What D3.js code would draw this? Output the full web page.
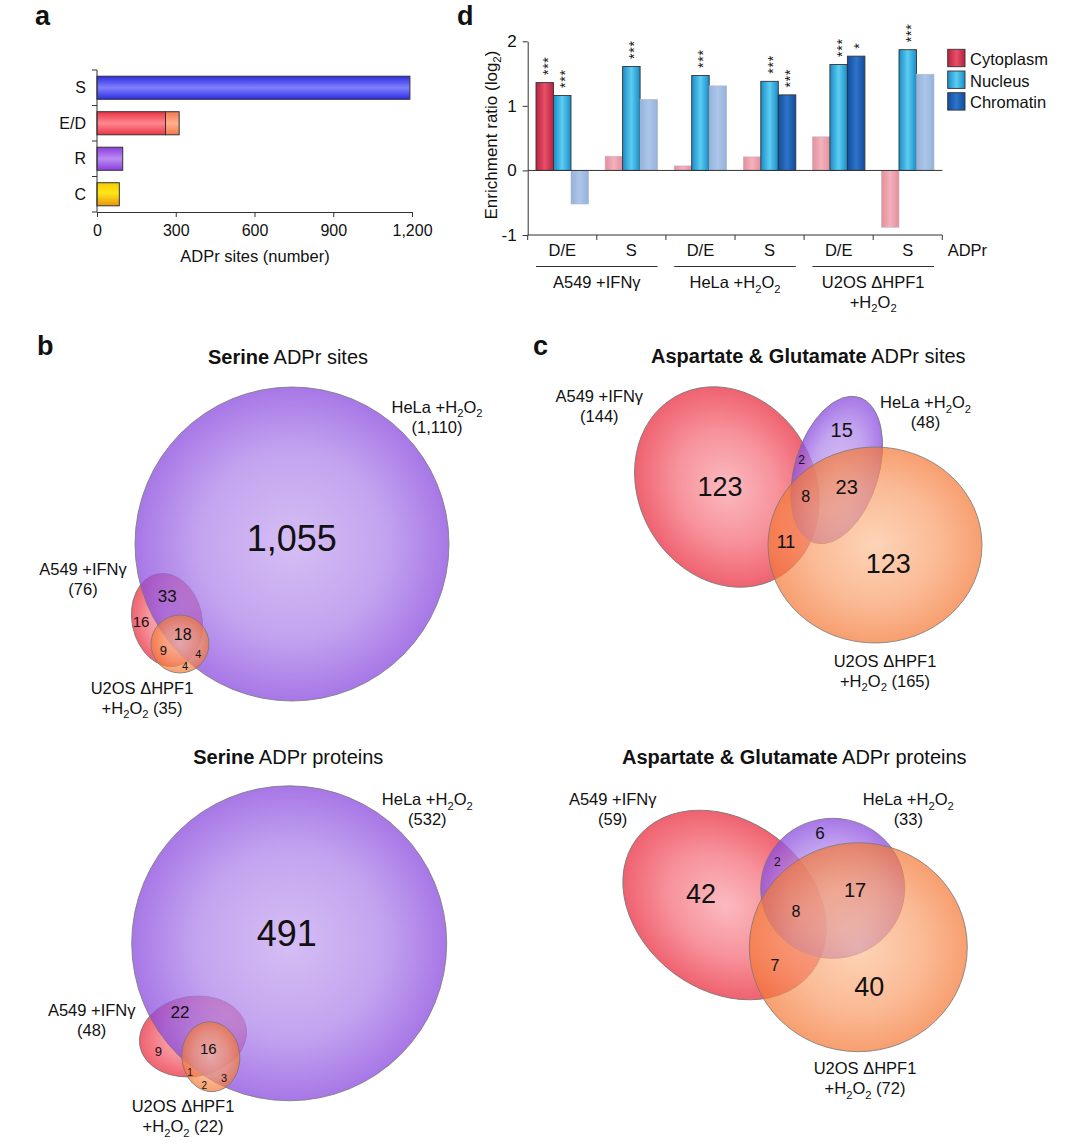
<!DOCTYPE html>
<html><head>
<meta charset="utf-8">
<script src="https://d3js.org/d3.v7.min.js"></script>
<style>
  body { margin: 0; background: #fff; }
  svg { display: block; }
  text { font-family: "Liberation Sans", Arial, sans-serif; fill: #111; }
</style>
</head>
<body>
<svg id="fig" width="1080" height="1146"></svg>
<script>
// ---------- data ----------
// panel a: ADPr sites per residue
const aCategories = ["S", "E/D", "R", "C"];
const aMainCounts = [1192, 261, 98, 85];
const aExtraCounts = [0, 52, 0, 0];
const aTicks = [0, 300, 600, 900, 1200];

// panel d: enrichment ratios (log2)
const dCompartments = ["Cytoplasm", "Nucleus", "Chromatin"];
const dResidues = ["D/E", "S", "D/E", "S", "D/E", "S"];
const dCellLines = ["A549 +IFNγ", "HeLa +H₂O₂", "U2OS ΔHPF1 +H₂O₂"];
const dCytoplasm = [1.36, 0.22, 0.07, 0.21, 0.52, -0.88];
const dNucleus = [1.16, 1.61, 1.47, 1.38, 1.64, 1.87];
const dChromatin = [-0.52, 1.10, 1.31, 1.17, 1.77, 1.49];
const dCytoplasmStars = ["***", "", "", "", "", ""];
const dNucleusStars = ["***", "***", "***", "***", "***", "***"];
const dChromatinStars = ["", "", "", "***", "*", ""];
const dTicks = [-1, 0, 1, 2];

// panels b, c: venn counts, regions in order A, H, U, AH, AU, HU, AHU
const vennSetNames = ["A549 +IFNγ", "HeLa +H₂O₂", "U2OS ΔHPF1 +H₂O₂"];
const regionKeys = ["A", "H", "U", "AH", "AU", "HU", "AHU"];
const serineSiteTotals = [76, 1110, 35];
const serineSiteRegions = [16, 1055, 4, 33, 9, 4, 18];
const serineProteinTotals = [48, 532, 22];
const serineProteinRegions = [9, 491, 2, 22, 1, 3, 16];
const acidicSiteTotals = [144, 48, 165];
const acidicSiteRegions = [123, 15, 123, 2, 11, 23, 8];
const acidicProteinTotals = [59, 33, 72];
const acidicProteinRegions = [42, 6, 40, 2, 7, 17, 8];

// ---------- helpers ----------
const svg = d3.select("#fig");
const defs = svg.append("defs");

function linGrad(id, stops, vertical) {
  const g = defs.append("linearGradient").attr("id", id)
    .attr("x1", 0).attr("y1", 0).attr("x2", vertical ? 0 : 1).attr("y2", vertical ? 1 : 0);
  stops.forEach(s => g.append("stop").attr("offset", s[0]).attr("stop-color", s[1]));
}
function radGrad(id, stops) {
  const g = defs.append("radialGradient").attr("id", id).attr("cx", "50%").attr("cy", "50%").attr("r", "50%");
  stops.forEach(s => g.append("stop").attr("offset", s[0]).attr("stop-color", s[1]));
}
// text with subscript 2
function rich(t, str, fs) {
  const parts = str.split(/(₂)/).filter(p => p !== "");
  let down = false;
  parts.forEach(p => {
    if (p === "₂") {
      t.append("tspan").attr("dy", down ? 0 : fs * 0.28).attr("font-size", fs * 0.68).text("2");
      down = true;
    } else {
      const s = t.append("tspan").text(p);
      if (down) { s.attr("dy", -fs * 0.28); down = false; }
    }
  });
}
function panelLabel(x, y, s) {
  svg.append("text").attr("x", x).attr("y", y).attr("font-size", 27).attr("font-weight", "bold").text(s);
}

// ---------- panel a ----------
linGrad("gS", [[0, "#2c2ce2"], [0.5, "#8080ff"], [1, "#2c2ce2"]], true);
linGrad("gED", [[0, "#ea3444"], [0.5, "#ff8890"], [1, "#ea3444"]], true);
linGrad("gED2", [[0, "#f27a4e"], [0.5, "#ffb08e"], [1, "#f27a4e"]], true);
linGrad("gR", [[0, "#8a3edc"], [0.5, "#bb8cf4"], [1, "#8a3edc"]], true);
linGrad("gC", [[0, "#f4cc00"], [0.45, "#ffe61a"], [1, "#e8960e"]], true);
const aFill = ["url(#gS)", "url(#gED)", "url(#gR)", "url(#gC)"];

panelLabel(35, 25, "a");
const aG = svg.append("g");
const ax = d3.scaleLinear().domain([0, 1200]).range([97, 412]);
const ay = d3.scaleBand().domain(aCategories).range([70, 212]).paddingInner(0.35).paddingOuter(0.175);

aG.selectAll("rect.main").data(aCategories).join("rect").attr("class", "main")
  .attr("x", ax(0)).attr("y", d => ay(d))
  .attr("width", (d, i) => ax(aMainCounts[i]) - ax(0)).attr("height", ay.bandwidth())
  .attr("fill", (d, i) => aFill[i]).attr("stroke", "#333").attr("stroke-width", 1);
aG.selectAll("rect.extra").data(aCategories.filter((d, i) => aExtraCounts[i] > 0)).join("rect").attr("class", "extra")
  .attr("x", d => ax(aMainCounts[aCategories.indexOf(d)])).attr("y", d => ay(d))
  .attr("width", d => { const i = aCategories.indexOf(d); return ax(aMainCounts[i] + aExtraCounts[i]) - ax(aMainCounts[i]); })
  .attr("height", ay.bandwidth())
  .attr("fill", "url(#gED2)").attr("stroke", "#333").attr("stroke-width", 1);

const aAxis = aG.append("g").attr("transform", "translate(0,212)")
  .call(d3.axisBottom(ax).tickValues(aTicks).tickFormat(d3.format(",")).tickSize(5).tickSizeOuter(0).tickPadding(8));
aAxis.selectAll("text").attr("font-size", 16).attr("font-family", "Liberation Sans, Arial, sans-serif").attr("fill", "#111");
aAxis.select(".domain").attr("stroke", "#333");
aAxis.selectAll(".tick line").attr("stroke", "#333");

aG.append("line").attr("x1", 97).attr("x2", 97).attr("y1", 70).attr("y2", 212).attr("stroke", "#333");
aG.selectAll("line.bt").data(d3.range(aCategories.length + 1)).join("line").attr("class", "bt")
  .attr("x1", 92).attr("x2", 97)
  .attr("y1", i => ay.range()[0] + i * ay.step()).attr("y2", i => ay.range()[0] + i * ay.step())
  .attr("stroke", "#333");
aG.selectAll("text.cat").data(aCategories).join("text").attr("class", "cat")
  .attr("x", 86).attr("y", d => ay(d) + ay.bandwidth() / 2).attr("dy", "0.35em")
  .attr("text-anchor", "end").attr("font-size", 16).text(d => d);
aG.append("text").attr("x", 255).attr("y", 262).attr("text-anchor", "middle").attr("font-size", 16.5)
  .text("ADPr sites (number)");

// ---------- panel d ----------
linGrad("gCyto", [[0, "#b82240"], [0.5, "#e85068"], [1, "#b82240"]], false);
linGrad("gNuc", [[0, "#1b8cc6"], [0.5, "#5ccdf2"], [1, "#1b8cc6"]], false);
linGrad("gChr", [[0, "#124c9e"], [0.5, "#2e74c8"], [1, "#124c9e"]], false);
linGrad("gCytoF", [[0, "#e58e9c"], [0.5, "#f2b2bc"], [1, "#e58e9c"]], false);
linGrad("gNucF", [[0, "#8ccbe6"], [0.5, "#b6e2f4"], [1, "#8ccbe6"]], false);
linGrad("gChrF", [[0, "#93b2dc"], [0.5, "#adc6e8"], [1, "#93b2dc"]], false);
const dFill = { Cytoplasm: "url(#gCyto)", Nucleus: "url(#gNuc)", Chromatin: "url(#gChr)" };
const dFillF = { Cytoplasm: "url(#gCytoF)", Nucleus: "url(#gNucF)", Chromatin: "url(#gChrF)" };
const dValues = { Cytoplasm: dCytoplasm, Nucleus: dNucleus, Chromatin: dChromatin };
const dStars = { Cytoplasm: dCytoplasmStars, Nucleus: dNucleusStars, Chromatin: dChromatinStars };
const dFs = 16.5;

panelLabel(457, 25, "d");
const dG = svg.append("g");
const dx = d3.scaleBand().domain(d3.range(dResidues.length)).range([527.7, 942.3]);
const dIn = d3.scaleBand().domain(dCompartments).range([8.3, 60.8]);
const dy = d3.scaleLinear().domain([-1, 2]).range([235, 41.3]);

const dBars = [];
dResidues.forEach((r, i) => dCompartments.forEach(c => dBars.push({ i, c, v: dValues[c][i], s: dStars[c][i] })));

dG.selectAll("rect.bar").data(dBars).join("rect").attr("class", "bar")
  .attr("x", d => dx(d.i) + dIn(d.c)).attr("width", dIn.bandwidth())
  .attr("y", d => dy(Math.max(d.v, 0))).attr("height", d => Math.abs(dy(d.v) - dy(0)))
  .attr("fill", d => d.s ? dFill[d.c] : dFillF[d.c])
  .attr("stroke", d => d.s ? "#333" : "#b8b8c0").attr("stroke-width", d => d.s ? 0.9 : 0.6);

// significance stars, stacked vertically in one rotated text
const starFs = 14;
dG.append("g").attr("opacity", 0.99)
  .selectAll("text.star").data(dBars.filter(d => d.s)).join("text").attr("class", "star")
  .attr("transform", d => `translate(${dx(d.i) + dIn(d.c) + dIn.bandwidth() / 2},${dy(d.v) - 7.5}) rotate(-90)`)
  .attr("y", starFs * 0.57).attr("font-size", starFs).attr("letter-spacing", 0.8).attr("fill", "#222")
  .text(d => d.s);

dG.append("line").attr("x1", dx.range()[0]).attr("x2", dx.range()[1]).attr("y1", dy(0)).attr("y2", dy(0)).attr("stroke", "#333");
const dAxis = dG.append("g").attr("transform", `translate(${dx.range()[0]},0)`)
  .call(d3.axisLeft(dy).tickValues(dTicks).tickFormat(d => String(d)).tickSize(5).tickSizeOuter(0).tickPadding(6));
dAxis.selectAll("text").attr("font-size", 17).attr("font-family", "Liberation Sans, Arial, sans-serif").attr("fill", "#111");
dAxis.select(".domain").attr("stroke", "#333");
dAxis.selectAll(".tick line").attr("stroke", "#333");
dG.append("line").attr("x1", dx.range()[0]).attr("x2", dx.range()[1]).attr("y1", dy(-1)).attr("y2", dy(-1)).attr("stroke", "#333");
dG.selectAll("line.gt").data(d3.range(dResidues.length + 1)).join("line").attr("class", "gt")
  .attr("x1", i => dx.range()[0] + i * dx.step()).attr("x2", i => dx.range()[0] + i * dx.step())
  .attr("y1", dy(-1)).attr("y2", dy(-1) + 5).attr("stroke", "#333");

dG.selectAll("text.res").data(dResidues).join("text").attr("class", "res")
  .attr("x", (d, i) => dx(i) + dx.bandwidth() / 2).attr("y", 255.5).attr("text-anchor", "middle")
  .attr("font-size", dFs).text(d => d);
dG.append("text").attr("x", 947.7).attr("y", 255.5).attr("font-size", dFs).text("ADPr");

dCellLines.forEach((name, g) => {
  const x0 = dx(2 * g) + 8.3, x1 = dx(2 * g + 1) + dx.bandwidth() - 8.3;
  dG.append("line").attr("x1", x0).attr("x2", x1).attr("y1", 266.5).attr("y2", 266.5).attr("stroke", "#333");
  const lines = name.length > 12 ? [name.slice(0, name.lastIndexOf(" +")), name.slice(name.lastIndexOf(" +") + 1)] : [name];
  lines.forEach((l, k) => {
    const t = dG.append("text").attr("x", (x0 + x1) / 2).attr("y", 288 + k * 19.5).attr("text-anchor", "middle").attr("font-size", dFs);
    rich(t, l, dFs);
  });
});

const yl = dG.append("text").attr("transform", "translate(496.5,135) rotate(-90)").attr("text-anchor", "middle").attr("font-size", 17);
rich(yl, "Enrichment ratio (log₂)", 17);

const leg = dG.selectAll("g.leg").data(dCompartments).join("g").attr("class", "leg")
  .attr("transform", (d, i) => `translate(947.7,${49.3 + i * 21.7})`);
leg.append("rect").attr("width", 17.3).attr("height", 17.4).attr("fill", d => dFill[d]).attr("stroke", "#333").attr("stroke-width", 0.9);
leg.append("text").attr("x", 22.3).attr("y", 15.5).attr("font-size", dFs).text(d => d);

// ---------- venn diagrams ----------
radGrad("vA", [[0, "#fbbac0"], [0.55, "#f7929b"], [1, "#ef6270"]]);
radGrad("vH", [[0, "#c8a8f0"], [0.6, "#ae84ea"], [1, "#8a4ade"]]);
radGrad("vU", [[0, "#fcc29a"], [0.6, "#f99d68"], [1, "#f47634"]]);
const vFill = ["url(#vA)", "url(#vH)", "url(#vU)"];
const vOpacity = [1, 0.75, 0.7];
const fmt = d3.format(",");
const vLabelFs = 16.5;

function drawVenn(layout, totals, regions, titleParts) {
  const g = svg.append("g");
  const tt = g.append("text").attr("x", layout.title[0]).attr("y", layout.title[1]).attr("dy", "0.35em")
    .attr("text-anchor", "middle").attr("font-size", 20);
  tt.append("tspan").attr("font-weight", "bold").text(titleParts[0]);
  tt.append("tspan").text(titleParts[1]);

  g.selectAll("ellipse").data(layout.shapes).join("ellipse")
    .attr("transform", d => `translate(${d.cx},${d.cy}) rotate(${d.rot})`)
    .attr("rx", d => d.rx).attr("ry", d => d.ry)
    .attr("fill", (d, i) => vFill[i]).attr("fill-opacity", (d, i) => vOpacity[i])
    .attr("stroke", "#777").attr("stroke-width", 0.8);

  vennSetNames.forEach((name, i) => {
    const lines = i === 2
      ? [name.slice(0, name.lastIndexOf(" +")), name.slice(name.lastIndexOf(" +") + 1) + " (" + fmt(totals[i]) + ")"]
      : [name, "(" + fmt(totals[i]) + ")"];
    lines.forEach((l, k) => {
      const t = g.append("text").attr("x", layout.labels[i][0]).attr("y", layout.labels[i][1] + k * 20)
        .attr("dy", "0.35em").attr("text-anchor", "middle").attr("font-size", vLabelFs);
      rich(t, l, vLabelFs);
    });
  });

  g.selectAll("text.reg").data(regionKeys).join("text").attr("class", "reg")
    .attr("x", k => layout.regions[k][0]).attr("y", k => layout.regions[k][1]).attr("dy", "0.36em")
    .attr("text-anchor", "middle").attr("font-size", k => layout.regions[k][2])
    .text((k, i) => fmt(regions[i]));
}

const serSitesLayout = {
  title: [288, 357],
  shapes: [{ cx: 167, cy: 620, rx: 35, ry: 47, rot: -12 }, { cx: 292, cy: 544, rx: 157, ry: 157, rot: 0 }, { cx: 180, cy: 644, rx: 29, ry: 29, rot: 0 }],
  labels: [[83, 569], [437, 407], [142, 688]],
  regions: { A: [141, 621.7, 15], H: [291.7, 538, 36], U: [185, 665.7, 11], AH: [167.3, 595.7, 17], AU: [163.3, 650.7, 13], HU: [198.3, 654.3, 11], AHU: [182.7, 634, 16] }
};
const serProtLayout = {
  title: [288.3, 757],
  shapes: [{ cx: 193, cy: 1036.5, rx: 54, ry: 40, rot: -10 }, { cx: 289.2, cy: 943.3, rx: 157.5, ry: 157.5, rot: 0 }, { cx: 210.8, cy: 1056.7, rx: 29, ry: 35, rot: -5 }],
  labels: [[91.7, 1010.7], [427.3, 799.3], [183, 1106.7]],
  regions: { A: [158.3, 1051, 13], H: [286.7, 932.7, 36], U: [204.3, 1085.7, 10], AH: [180, 1012.3, 17], AU: [190, 1072.7, 10], HU: [224, 1078.3, 11], AHU: [208.3, 1048.3, 15] }
};
const acidSitesLayout = {
  title: [808.3, 356],
  shapes: [{ cx: 726.8, cy: 487, rx: 88, ry: 104, rot: -30 }, { cx: 836.7, cy: 470, rx: 42, ry: 76, rot: 17 }, { cx: 875, cy: 545, rx: 107, ry: 98, rot: 0 }],
  labels: [[599.3, 396], [925.5, 402.7], [885, 661]],
  regions: { A: [720, 486.7, 27], H: [841.7, 429.3, 20], U: [888.3, 563.3, 27], AH: [801.7, 459.3, 12], AU: [786, 541.7, 18], HU: [846.7, 486.7, 20], AHU: [805.7, 496, 16] }
};
const acidProtLayout = {
  title: [794.3, 757],
  shapes: [{ cx: 724.5, cy: 905, rx: 110, ry: 85, rot: 37 }, { cx: 832.7, cy: 888.3, rx: 72, ry: 70, rot: 0 }, { cx: 858.3, cy: 947.2, rx: 109, ry: 104.5, rot: 0 }],
  labels: [[612.7, 799.3], [908.3, 799.3], [865, 1068.3]],
  regions: { A: [701, 893.3, 27], H: [820, 832.7, 17], U: [869.3, 986.7, 27], AH: [777.3, 861.7, 12], AU: [775, 965, 16], HU: [855, 890, 20], AHU: [796, 911.7, 16] }
};

panelLabel(37, 355, "b");
panelLabel(533, 355, "c");
drawVenn(serSitesLayout, serineSiteTotals, serineSiteRegions, ["Serine", " ADPr sites"]);
drawVenn(serProtLayout, serineProteinTotals, serineProteinRegions, ["Serine", " ADPr proteins"]);
drawVenn(acidSitesLayout, acidicSiteTotals, acidicSiteRegions, ["Aspartate & Glutamate", " ADPr sites"]);
drawVenn(acidProtLayout, acidicProteinTotals, acidicProteinRegions, ["Aspartate & Glutamate", " ADPr proteins"]);
</script>
</body>
</html>
